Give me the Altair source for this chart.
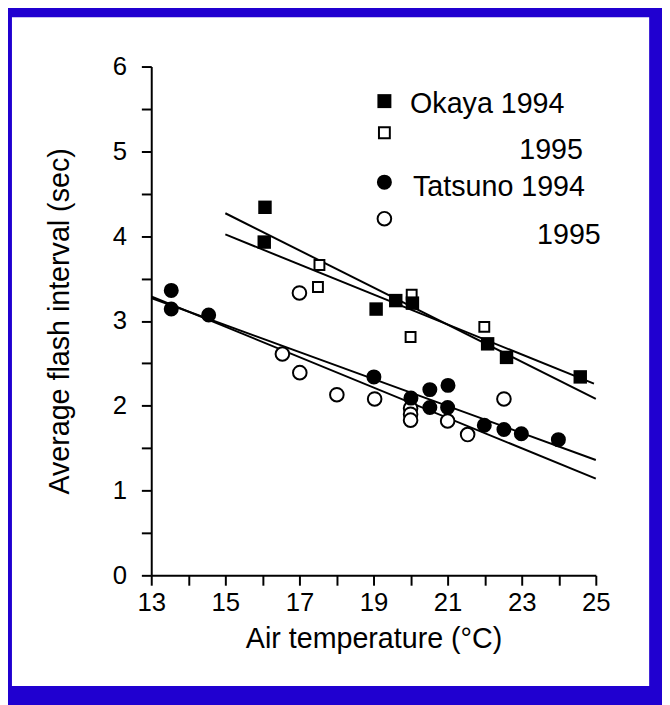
import altair as alt
import pandas as pd

# ---------------- data ----------------
okaya94_x = [16.07, 16.05, 19.07, 19.60, 20.05, 22.08, 22.59, 24.58]
okaya94_y = [4.34, 3.93, 3.14, 3.24, 3.21, 2.73, 2.57, 2.34]

okaya95_x = [17.54, 17.50, 20.03, 20.00, 21.99]
okaya95_y = [3.66, 3.40, 3.31, 2.81, 2.93]

tatsuno94_x = [13.54, 13.54, 14.55, 19.01, 20.01, 20.52, 21.01, 20.52, 21.00, 21.99, 22.52, 22.99, 23.99]
tatsuno94_y = [3.36, 3.14, 3.07, 2.34, 2.09, 2.19, 2.24, 1.98, 1.98, 1.77, 1.72, 1.67, 1.60]

tatsuno95_x = [17.00, 16.54, 17.01, 18.01, 19.03, 20.00, 20.00, 20.00, 21.00, 21.54, 22.52]
tatsuno95_y = [3.33, 2.61, 2.39, 2.13, 2.08, 1.97, 1.90, 1.83, 1.82, 1.66, 2.08]

# regression lines (end points)
fit_names = ["Okaya 1994", "Okaya 1994", "Okaya 1995", "Okaya 1995",
             "Tatsuno 1994", "Tatsuno 1994", "Tatsuno 1995", "Tatsuno 1995"]
fit_x = [15.0, 25.0, 15.0, 24.95, 13.0, 25.0, 13.0, 25.0]
fit_y = [4.27, 2.08, 4.02, 2.26, 3.27, 1.36, 3.29, 1.14]

legend_labels = ["Okaya 1994", "1995", "Tatsuno 1994", "1995"]

x_ticks = list(range(13, 26))
y_ticks = [i * 0.5 for i in range(13)]

FONT = "Liberation Sans"
BLUE = "#2000d0"

# ---------------- encodings ----------------
x_enc = alt.X(
    "x:Q",
    scale=alt.Scale(domain=[13, 25], nice=False, zero=False),
    axis=alt.Axis(
        values=x_ticks, format="d",
        labelExpr="datum.value % 2 == 1 ? datum.label : ''",
        title="Air temperature (°C)",
        grid=False, tickSize=10, tickWidth=2, domainWidth=2,
        tickColor="black", domainColor="black",
        labelFont=FONT, labelFontSize=26, labelColor="black", labelPadding=5,
        labelFlush=False, labelOverlap=False, labelBound=False,
        titleFont=FONT, titleFontSize=29, titleFontWeight="normal",
        titleColor="black", titlePadding=9, zindex=1,
    ),
)
y_enc = alt.Y(
    "y:Q",
    scale=alt.Scale(domain=[0, 6], nice=False, zero=True),
    axis=alt.Axis(
        values=y_ticks, format=".0f",
        labelExpr="datum.value % 1 == 0 ? datum.label : ''",
        title="Average flash interval (sec)",
        grid=False, tickSize=10, tickWidth=2, domainWidth=2,
        tickColor="black", domainColor="black",
        labelFont=FONT, labelFontSize=26, labelColor="black", labelPadding=15,
        labelFlush=False, labelOverlap=False, labelBound=False,
        titleFont=FONT, titleFontSize=29, titleFontWeight="normal",
        titleColor="black", titlePadding=38, zindex=1,
    ),
)

def pts(xs, ys):
    return pd.DataFrame({"x": xs, "y": ys})

one = pd.DataFrame({"a": [0]})

# white page area on top of the blue background
page = alt.Chart(one).mark_rect(color="white").encode(
    x=alt.value(-141), x2=alt.value(504), y=alt.value(-50), y2=alt.value(627)
)

fits = alt.Chart(pd.DataFrame({"x": fit_x, "y": fit_y, "s": fit_names})).mark_line(
    color="black", strokeWidth=2
).encode(x=x_enc, y=y_enc, detail="s:N")

open_c = alt.Chart(pts(tatsuno95_x, tatsuno95_y)).mark_point(
    shape="circle", filled=True, fill="white", stroke="black", strokeWidth=2, size=190, opacity=1
).encode(x=x_enc, y=y_enc)

open_s = alt.Chart(pts(okaya95_x, okaya95_y)).mark_point(
    shape="square", filled=True, fill="white", stroke="black", strokeWidth=2, size=100, opacity=1
).encode(x=x_enc, y=y_enc)

fill_c = alt.Chart(pts(tatsuno94_x, tatsuno94_y)).mark_point(
    shape="circle", filled=True, color="black", size=230, opacity=1
).encode(x=x_enc, y=y_enc)

fill_s = alt.Chart(pts(okaya94_x, okaya94_y)).mark_point(
    shape="square", filled=True, color="black", size=185, opacity=1
).encode(x=x_enc, y=y_enc)

# ---------------- legend (drawn by hand, layout of the original) ----------------
leg_sym = [
    alt.Chart(one).mark_point(shape="square", filled=True, color="black", size=200, opacity=1)
    .encode(x=alt.value(236), y=alt.value(35)),
    alt.Chart(one).mark_point(shape="square", filled=True, fill="white", stroke="black",
                              strokeWidth=2, size=121, opacity=1)
    .encode(x=alt.value(236), y=alt.value(67)),
    alt.Chart(one).mark_point(shape="circle", filled=True, color="black", size=230, opacity=1)
    .encode(x=alt.value(236), y=alt.value(117)),
    alt.Chart(one).mark_point(shape="circle", filled=True, fill="white", stroke="black",
                              strokeWidth=2, size=190, opacity=1)
    .encode(x=alt.value(236), y=alt.value(154)),
]
leg_txt_pos = [(262, 38, "left"), (437, 85, "right"), (265, 122, "left"), (455, 171, "right")]
leg_txt = [
    alt.Chart(one).mark_text(text=lab, font=FONT, fontSize=29, color="black",
                             align=al, baseline="middle")
    .encode(x=alt.value(px), y=alt.value(py))
    for lab, (px, py, al) in zip(legend_labels, leg_txt_pos)
]

chart = alt.layer(
    page, fits, open_c, open_s, fill_c, fill_s, *leg_sym, *leg_txt
).properties(
    width=450,
    height=515,
    padding={"left": 145, "top": 55, "right": 67, "bottom": 127},
    autosize=alt.AutoSizeParams(type="none"),
    background=BLUE,
).configure_view(strokeWidth=0)

chart.save("out.html", embed_options={"renderer": "svg", "actions": False})
